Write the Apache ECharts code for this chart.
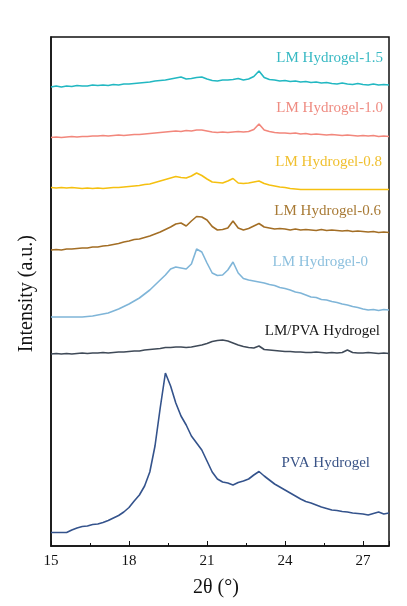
<!DOCTYPE html>
<html><head><meta charset="utf-8">
<script src="https://cdn.jsdelivr.net/npm/echarts@6/dist/echarts.min.js"></script>
<style>html,body{margin:0;padding:0;background:#fff}#c{width:407px;height:606px}</style>
</head><body><div id="c"></div>
<script>
var theta = [15.0,15.2,15.4,15.6,15.8,16.0,16.2,16.4,16.6,16.8,17.0,17.2,17.4,17.6,17.8,18.0,18.2,18.4,18.6,18.8,19.0,19.2,19.4,19.6,19.8,20.0,20.2,20.4,20.6,20.8,21.0,21.2,21.4,21.6,21.8,22.0,22.2,22.4,22.6,22.8,23.0,23.2,23.4,23.6,23.8,24.0,24.2,24.4,24.6,24.8,25.0,25.2,25.4,25.6,25.8,26.0,26.2,26.4,26.6,26.8,27.0,27.2,27.4,27.6,27.8,28.0];
var xTicks = [15,18,21,24,27];
var names = ['LM Hydrogel-1.5','LM Hydrogel-1.0','LM Hydrogel-0.8','LM Hydrogel-0.6','LM Hydrogel-0','LM/PVA Hydrogel','PVA Hydrogel'];
var lm15 = [459,460,459,460,459.5,460.5,460,460,461,460.5,461,460.5,461.5,461,462,462,462.5,463,463.5,464,465,465.5,466,467,468,469,467,467.5,468.5,469,467,465.5,465,466,466,466.5,467.5,466,467,469.5,475,468.5,466.5,466,465,465.5,464.5,465,464,464.5,463.5,464,463,463.5,462.5,462,463,462,461.5,462.5,461.5,461,462,461,461.5,461];
var lm10 = [408.5,409,408.5,409,409.5,409,409.5,409.5,410,410,410.5,410,410.5,411,410.5,411,411.5,411.5,412,412.5,413,413.5,414,414.5,415,414.5,415.5,415,416,416,415,414,413.5,414,413.5,414,414.5,414,414.5,416.5,422,416,414.5,413.5,413,413,412.5,413,412,412.5,411.5,412,411.5,411,411.5,411,410.5,411,410.5,410,410.5,410,410.5,409.5,410,409.5];
var lm08 = [358.5,358,358.5,358,358.5,358,357.5,358,357.5,358,357.5,358,358.5,358.5,359,359.5,360,360.5,361.5,362,363.5,365,366.5,368,369.5,368.5,368,370,373,370.5,367,364,363.5,363,365,367.5,363,362.5,363,364,365,362.5,361,360,359,358.5,357.5,357,356.5,356.5,356.5,356.5,356.5,356.5,356.5,356.5,356.5,356.5,356.5,356.5,356.5,356.5,356.5,356.5,356.5,356.5];
var lm06 = [296,296.5,296,297,297,297.5,298,298,299,299,300,300.5,301.5,302.5,304,305,306.5,307,308.5,310,312,314,316.5,319,322,323,320,325,329.5,329,326,319.5,316,316.5,318,325,318,316,317.5,320,322.5,319,318,317,317.5,317,316,317,316,316.5,316,315.5,316.5,315.5,316,315.5,315,315.5,314.5,315,314.5,314,314.5,313.5,314,313.5];
var lm0 = [229,229,229,229,229,229,229,229.5,230,231,232,233,235,237,239.5,242,245,248,252,256,261,266,271,277,279,278,277,282,297,294,283,273,270.5,271,276,284,273,267.5,266,265,264,263,261.5,260.5,258.5,257.5,256,254,253,251,249,248.5,246.5,246,244.5,243.5,242,241,239.5,238.5,237,236,236.5,235.5,236.5,236];
var lmpva = [192,192.5,192,192.5,192,192.5,193,192.5,193,193,193.5,193,193.5,194,194,194.5,195,195,196,196.5,197,197.5,198.5,198.5,199,199,198.5,199,200,201,202.5,204.5,205.5,206,205,203,201,199.5,198.5,198,200,196.5,196,195.5,195,194.5,194.5,194,194,193.5,193.5,194,193.5,193,193.5,193,193.5,196,193.5,193,193,193.5,193,192.5,193,192.5];
var pva = [13.5,13.5,13.5,13.5,16,18,19.5,20,21.5,22,23.5,25.5,28,30.5,34,38.5,45,51,60,74,100,138,173,160,143,130,121,110,103,96,85,74,67,64,63,61,63.5,65,67,71,74.5,70,66,62,59,56,53,50,47,44.5,43,41,39,37.5,36,35.5,34.5,34,33,32.5,32,31,32.5,34,32,33];

var seriesData = [lm15, lm10, lm08, lm06, lm0, lmpva, pva];
var lineColors = ['#22b8c2','#f2877c','#f5c010','#a36e25','#7fb5d8','#3f4a58','#34538c'];
var textColors = ['#38b9c3','#ef8c82','#f0c030','#a87a35','#8dc0de','#1a1a1a','#3a5487'];
var FONT = '"Liberation Serif","Times New Roman",serif';

var chart = echarts.init(document.getElementById('c'), null, {renderer:'canvas'});
var series = seriesData.map(function(arr, i){
  return {
    name: names[i], type:'line', showSymbol:false, symbol:'none',
    data: theta.map(function(t, j){ return [t, arr[j]]; }),
    lineStyle:{color:lineColors[i], width:1.6},
    itemStyle:{color:lineColors[i]},
    animation:false
  };
});
var labelPos = [[383,60],[383,110],[382,164],[381,213],[368,264],[380,333],[370,465]];
var graphics = names.map(function(n, i){
  return {type:'text', right: 407 - labelPos[i][0], top: labelPos[i][1] - 9,
    style:{text:n, fill:textColors[i], font:'15px ' + FONT, textAlign:'right'}};
});
graphics.push({type:'text', left:193, top:578, style:{text:'2θ (°)', fill:'#111', font:'20px ' + FONT}});
graphics.push({type:'text', left:17, top:235, rotation:Math.PI/2, style:{text:'Intensity (a.u.)', fill:'#111', font:'20px ' + FONT}});

chart.setOption({
  backgroundColor:'#fff',
  animation:false,
  grid:{left:51, right:18, top:37, bottom:60, show:true, borderColor:'#111', borderWidth:1.5, backgroundColor:'transparent'},
  xAxis:{type:'value', min:15, max:28, interval:3,
    axisLine:{show:true, onZero:false, lineStyle:{color:'#111', width:1.5}},
    axisTick:{show:true, inside:true, length:5, lineStyle:{color:'#111'}},
    minorTick:{show:true, splitNumber:2, length:3, lineStyle:{color:'#111'}},
    splitLine:{show:false},
    axisLabel:{color:'#111', fontSize:15, fontFamily:FONT, margin:8,
      formatter:function(v){ return xTicks.indexOf(v) >= 0 ? String(v) : ''; }}
  },
  yAxis:{type:'value', min:0, max:509,
    axisLine:{show:true, lineStyle:{color:'#111', width:1.5}},
    axisTick:{show:false}, axisLabel:{show:false}, splitLine:{show:false}},
  series: series,
  graphic: graphics
});
</script></body></html>
